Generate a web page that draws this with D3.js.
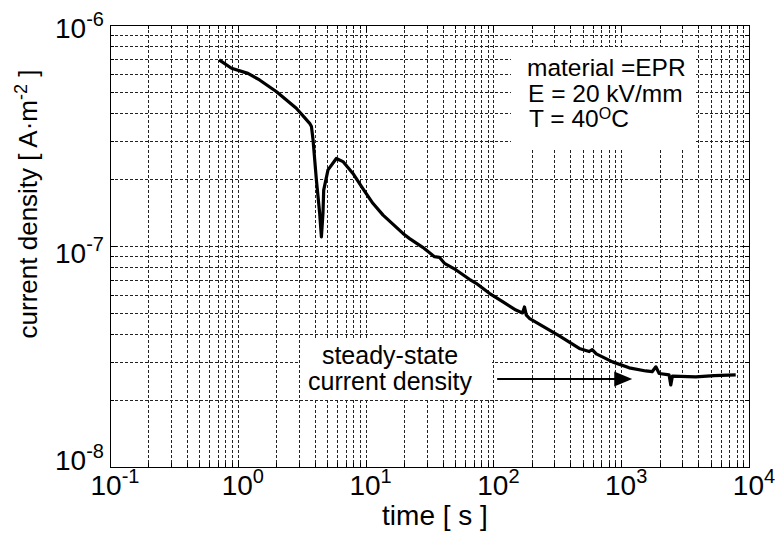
<!DOCTYPE html>
<html>
<head>
<meta charset="utf-8">
<script src="https://cdn.jsdelivr.net/npm/d3@7"></script>
<style>
  body { margin: 0; background: #fff; }
  svg { display: block; font-family: "Liberation Sans", Arial, sans-serif; }
</style>
</head>
<body>
<svg width="783" height="537"></svg>
<script>
// measured curve: time [s] and current density [A/m^2]
var timeS = [0.714, 0.893, 1.20, 1.48, 2.01, 2.87, 3.65, 3.77, 3.88, 4.12, 4.37, 4.51,
  4.64, 4.70, 5.08, 5.90, 6.65, 7.96, 9.52, 11.4, 13.7, 19.6, 22.1, 28.0, 34.6, 37.8,
  41.4, 51.1, 64.9, 73.3, 93.0, 118, 150, 169, 175, 181, 191, 328, 470, 562, 593, 638,
  855, 1155, 1560, 1747, 1867, 1982, 2371, 2443, 2517, 3837, 5333, 7870];
var currentDensity = [6.95e-7, 6.37e-7, 6.04e-7, 5.64e-7, 4.99e-7, 4.20e-7, 3.59e-7, 3.47e-7,
  3.02e-7, 1.99e-7, 1.41e-7, 1.10e-7, 1.41e-7, 1.79e-7, 2.21e-7, 2.49e-7, 2.41e-7, 2.13e-7,
  1.82e-7, 1.56e-7, 1.38e-7, 1.14e-7, 1.08e-7, 9.86e-8, 8.95e-8, 8.89e-8, 8.35e-8, 7.79e-8,
  7.07e-8, 6.78e-8, 6.11e-8, 5.60e-8, 5.13e-8, 4.98e-8, 5.30e-8, 4.87e-8, 4.71e-8, 3.92e-8,
  3.44e-8, 3.33e-8, 3.40e-8, 3.25e-8, 2.99e-8, 2.81e-8, 2.72e-8, 2.70e-8, 2.84e-8, 2.65e-8,
  2.61e-8, 2.35e-8, 2.58e-8, 2.56e-8, 2.59e-8, 2.61e-8];

var xExponents = [-1, 0, 1, 2, 3, 4];
var yExponents = [-8, -7, -6];
var infoLines = ["material =EPR", "E = 20 kV/mm", "T = 40"];
var noteLines = ["steady-state", "current density"];
var arrowTime = [107, 1220];
var arrowLevel = 2.5e-8;

function draw() {
  var svg = d3.select("svg");
  var pl = 110, pr = 749, pt = 25, pb = 467;

  var x = d3.scaleLog().domain([0.1, 1e4]).range([pl, pr]);
  var y = d3.scaleLog().domain([1e-8, 1e-6]).range([pb, pt]);
  var isDecade = function(d) { return Math.abs(Math.log10(d) - Math.round(Math.log10(d))) < 1e-9; };

  // grid
  var grid = svg.append("g").attr("stroke", "#222").attr("stroke-width", 1)
      .attr("stroke-dasharray", "3,2").attr("shape-rendering", "crispEdges");
  grid.selectAll(".gx").data(x.ticks()).enter().append("line")
      .attr("x1", function(d) { return Math.round(x(d)) + 0.5; })
      .attr("x2", function(d) { return Math.round(x(d)) + 0.5; })
      .attr("y1", pt).attr("y2", pb);
  grid.selectAll(".gy").data(y.ticks()).enter().append("line")
      .attr("y1", function(d) { return Math.round(y(d)) + 0.5; })
      .attr("y2", function(d) { return Math.round(y(d)) + 0.5; })
      .attr("x1", pl).attr("x2", pr);

  // ticks inside the box
  var ticks = svg.append("g").attr("stroke", "#000").attr("shape-rendering", "crispEdges");
  x.ticks().forEach(function(d) {
    var len = isDecade(d) ? 7 : 4;
    var px = Math.round(x(d)) + 0.5;
    ticks.append("line").attr("x1", px).attr("x2", px).attr("y1", pb).attr("y2", pb - len);
    ticks.append("line").attr("x1", px).attr("x2", px).attr("y1", pt).attr("y2", pt + len);
  });
  y.ticks().forEach(function(d) {
    var len = isDecade(d) ? 7 : 4;
    var py = Math.round(y(d)) + 0.5;
    ticks.append("line").attr("y1", py).attr("y2", py).attr("x1", pl).attr("x2", pl + len);
    ticks.append("line").attr("y1", py).attr("y2", py).attr("x1", pr).attr("x2", pr - len);
  });

  // white label boxes over the grid
  svg.append("rect").attr("x", 511).attr("y", 47).attr("width", 185).attr("height", 103).attr("fill", "#fff");
  svg.append("rect").attr("x", 300).attr("y", 339).attr("width", 192).attr("height", 61).attr("fill", "#fff");

  // curve
  var line = d3.line()
      .x(function(d, i) { return x(timeS[i]); })
      .y(function(d, i) { return y(currentDensity[i]); });
  svg.append("path").datum(timeS)
      .attr("d", line)
      .attr("fill", "none").attr("stroke", "#000").attr("stroke-width", 3.2)
      .attr("stroke-linejoin", "round");

  // frame
  svg.append("rect").attr("x", pl + 0.5).attr("y", pt + 0.5)
      .attr("width", pr - pl).attr("height", pb - pt)
      .attr("fill", "none").attr("stroke", "#000").attr("shape-rendering", "crispEdges");

  // tick labels
  function powLabel(e) {
    var t = svg.append("text").attr("fill", "#000");
    t.append("tspan").attr("font-size", 28).text("10");
    t.append("tspan").attr("font-size", 20).attr("dy", -12).text(e < 0 ? "-" + (-e) : e);
    return t;
  }
  xExponents.forEach(function(e) {
    powLabel(e).attr("x", x(Math.pow(10, e)) + 5).attr("y", 495).attr("text-anchor", "middle");
  });
  var yBase = { "-8": 3, "-7": 17, "-6": 13 };
  yExponents.forEach(function(e) {
    powLabel(e).attr("x", 104).attr("y", y(Math.pow(10, e)) + yBase[e]).attr("text-anchor", "end");
  });

  // axis titles
  svg.append("text").attr("x", 435).attr("y", 525).attr("text-anchor", "middle")
      .attr("font-size", 28).text("time [ s ]");
  var yl = svg.append("text").attr("transform", "translate(37,204) rotate(-90)")
      .attr("text-anchor", "middle").attr("font-size", 26);
  yl.append("tspan").text("current density [ A\u00b7m");
  yl.append("tspan").attr("font-size", 18).attr("dy", -10).text("-2");
  yl.append("tspan").attr("dy", 10).text(" ]");

  // info text
  var info = svg.append("g").attr("font-size", 24.5);
  infoLines.forEach(function(s, i) {
    var t = info.append("text").attr("x", 527 + i).attr("y", 76 + i * 25.5).text(s);
    if (i === 2) {
      t.append("tspan").attr("font-size", 16).attr("dy", -8).text("O");
      t.append("tspan").attr("dy", 8).text("C");
    }
  });

  // steady-state note and arrow
  noteLines.forEach(function(s, i) {
    svg.append("text").attr("x", 390).attr("y", 364 + i * 26).attr("text-anchor", "middle")
        .attr("font-size", 25).text(s);
  });
  var ay = y(arrowLevel);
  var tip = x(arrowTime[1]);
  svg.append("line").attr("x1", x(arrowTime[0])).attr("x2", tip - 16)
      .attr("y1", ay).attr("y2", ay).attr("stroke", "#000").attr("stroke-width", 2);
  svg.append("path")
      .attr("d", "M" + tip + "," + ay + "L" + (tip - 18) + "," + (ay - 7.5) + "L" + (tip - 18) + "," + (ay + 7.5) + "Z")
      .attr("fill", "#000");
}

draw();
</script>
</body>
</html>
